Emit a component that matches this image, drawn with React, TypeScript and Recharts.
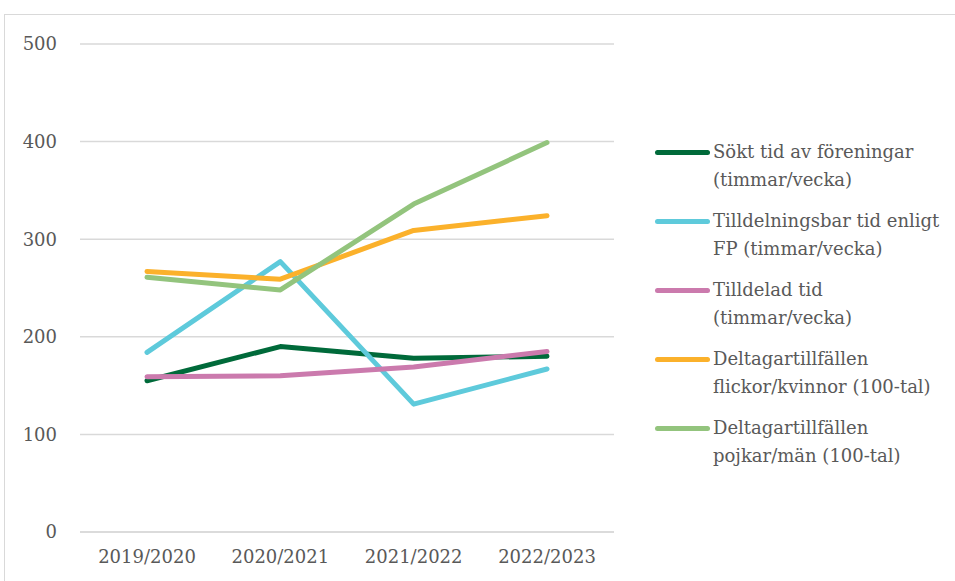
import { LineChart, Line, XAxis, YAxis, CartesianGrid } from 'recharts';

const seasons = ['2019/2020', '2020/2021', '2021/2022', '2022/2023'];
const soktTid = [155, 190, 178, 180];
const tilldelningsbarTid = [184, 277, 131, 167];
const tilldeladTid = [159, 160, 169, 185];
const flickorKvinnor = [267, 259, 309, 324];
const pojkarMan = [261, 248, 336, 399];
const yTicks = [0, 100, 200, 300, 400, 500];

const seriesDefs = [
    { key: 'sokt', name: 'Sökt tid av föreningar (timmar/vecka)', lines: ['Sökt tid av föreningar', '(timmar/vecka)'], color: '#006a3a' },
    { key: 'fp', name: 'Tilldelningsbar tid enligt FP (timmar/vecka)', lines: ['Tilldelningsbar tid enligt', 'FP (timmar/vecka)'], color: '#5ecadb' },
    { key: 'tilldelad', name: 'Tilldelad tid (timmar/vecka)', lines: ['Tilldelad tid', '(timmar/vecka)'], color: '#cb7aad' },
    { key: 'flickor', name: 'Deltagartillfällen flickor/kvinnor (100-tal)', lines: ['Deltagartillfällen', 'flickor/kvinnor (100-tal)'], color: '#fbb12b' },
    { key: 'pojkar', name: 'Deltagartillfällen pojkar/män (100-tal)', lines: ['Deltagartillfällen', 'pojkar/män (100-tal)'], color: '#93c47d' },
];

const data = seasons.map((season, i) => ({
    season,
    sokt: soktTid[i],
    fp: tilldelningsbarTid[i],
    tilldelad: tilldeladTid[i],
    flickor: flickorKvinnor[i],
    pojkar: pojkarMan[i],
}));

const FONT = '"DejaVu Serif"';

export default function App() {
    return (
        <div style={{ position: 'absolute', left: 0, top: 0, width: 955, height: 581, background: '#fff', overflow: 'hidden' }}>
            <div style={{ position: 'absolute', left: 4, top: 14, width: 980, height: 600, border: '1px solid #d9d9d9' }} />
            <div style={{ position: 'absolute', left: 0, top: 0 }}>
                <LineChart width={955} height={581} data={data} margin={{ top: 44, right: 341, left: 0, bottom: 19 }}>
                    <CartesianGrid vertical={false} stroke="#d9d9d9" strokeWidth={1.5} />
                    <XAxis
                        dataKey="season"
                        padding={{ left: 67, right: 67 }}
                        axisLine={{ stroke: '#d9d9d9', strokeWidth: 1.5 }}
                        tickLine={false}
                        height={30}
                        tickMargin={12}
                        tick={{ fill: '#595959', fontSize: 18, fontFamily: FONT }}
                    />
                    <YAxis
                        domain={[0, 500]}
                        ticks={yTicks}
                        axisLine={false}
                        tickLine={false}
                        width={80}
                        tickMargin={17}
                        tick={{ fill: '#595959', fontSize: 18, fontFamily: FONT }}
                    />
                    {seriesDefs.map(s => (
                        <Line
                            key={s.key}
                            type="linear"
                            dataKey={s.key}
                            name={s.name}
                            stroke={s.color}
                            strokeWidth={5}
                            strokeLinecap="round"
                            strokeLinejoin="round"
                            dot={false}
                            activeDot={false}
                            isAnimationActive={false}
                        />
                    ))}
                </LineChart>
            </div>
            {/* legend to the right of the plot */}
            <div style={{ position: 'absolute', left: 655, top: 138, fontFamily: FONT, fontSize: 18, color: '#595959', lineHeight: '28px' }}>
                {seriesDefs.map(s => (
                    <div key={s.key} style={{ display: 'flex', alignItems: 'flex-start', marginBottom: 13 }}>
                        <div style={{ width: 55, height: 5, borderRadius: 3, background: s.color, marginTop: 12, marginRight: 3, flexShrink: 0 }} />
                        <div style={{ whiteSpace: 'nowrap' }}>
                            {s.lines.map(l => <div key={l}>{l}</div>)}
                        </div>
                    </div>
                ))}
            </div>
        </div>
    );
}
